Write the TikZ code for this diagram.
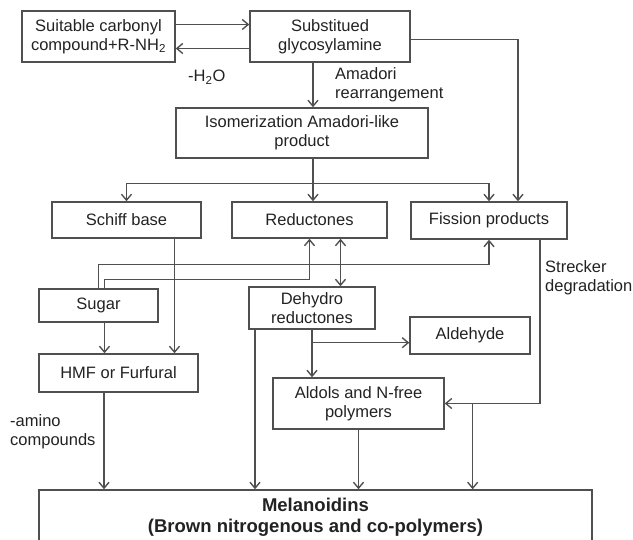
\documentclass[tikz,border=0pt]{standalone}
\usepackage{fontspec}
\setmainfont{Liberation Sans}
\usepackage{xcolor}
\usetikzlibrary{arrows.meta}
\definecolor{lngray}{HTML}{505050}
\definecolor{txgray}{HTML}{222222}

\begin{document}
\begin{tikzpicture}[x=1pt, y=-1pt,
            font=\fontsize{16.5}{19}\selectfont,
            >={Straight Barb[length=6pt,width=10pt]},
            box/.style={draw=lngray, line width=1.4pt, align=center, inner sep=0pt, text=txgray},
            arr/.style={draw=lngray, line width=1.4pt, ->},
            lbl/.style={align=left, anchor=west, inner sep=0pt, text=txgray}]
            \useasboundingbox (0,0) rectangle (633,540);

            \node[box, minimum width=153pt, minimum height=51pt] (carb) at (98.5,36.5) {Suitable carbonyl\\compound+R-NH\textsubscript{2}};
            \node[box, minimum width=160pt, minimum height=51pt] (glyco) at (330,36.5) {Substitued\\glycosylamine};
            \node[box, minimum width=252pt, minimum height=50pt] (iso) at (302,133) {Isomerization Amadori-like\\product};
            \node[box, minimum width=149pt, minimum height=36pt] (schiff) at (126.5,220) {Schiff base};
            \node[box, minimum width=155pt, minimum height=36pt] (red) at (309.5,220) {Reductones};
            \node[box, minimum width=156pt, minimum height=37pt] (fiss) at (489,220.5) {Fission products};
            \node[box, minimum width=119pt, minimum height=33pt] (sugar) at (98.5,305.5) {Sugar};
            \node[box, minimum width=159pt, minimum height=38pt] (hmf) at (118.5,373) {HMF or Furfural};
            \node[box, minimum width=126pt, minimum height=42pt] (dehy) at (312,308) {Dehydro\\reductones};
            \node[box, minimum width=120pt, minimum height=37pt] (alh) at (470,335.5) {Aldehyde};
            \node[box, minimum width=171pt, minimum height=51pt] (ald) at (358.5,403.5) {Aldols and N-free\\polymers};
            \node[box, minimum width=553pt, minimum height=54pt, font=\fontsize{18.5}{21}\selectfont\bfseries] (mel) at (315.5,517) {Melanoidins\\(Brown nitrogenous and co-polymers)};

            \node[lbl] (h2o) at (188,77) {-H\textsubscript{2}O};
            \node[lbl] (amad) at (335,85) {Amadori\\rearrangement};
            \node[lbl] (streck) at (545,278) {Strecker\\degradation};
            \node[lbl] (amino) at (10,432) {-amino\\compounds};

            \draw[arr] ([yshift=12pt]carb.east) -- ([yshift=12pt]glyco.west);
            \draw[arr] ([yshift=-12pt]glyco.west) -- ([yshift=-12pt]carb.east);
            \draw[arr] ([xshift=-17pt]glyco.south) -- ([xshift=-17pt]glyco.south |- iso.north);
            \draw[arr] ([yshift=-3pt]glyco.east) -| ([xshift=29pt]fiss.north);

            \coordinate (split) at ([xshift=11pt,yshift=-25pt]iso.south);
            \draw[arr] ([xshift=11pt]iso.south) -- ([xshift=11pt]iso.south |- red.north);
            \draw[arr] (split) -| (schiff.north);
            \draw[arr] (split) -| (fiss.north);

            \draw[arr] ([xshift=48pt]schiff.south) -- ([xshift=48pt]schiff.south |- hmf.north);
            \draw[arr] (sugar.north) |- ([yshift=-25pt]fiss.south) -- (fiss.south);
            \draw[arr] ([xshift=6pt]sugar.north) |- ([yshift=-41pt]red.south) -- (red.south);
            \draw[arr] ([xshift=6pt]sugar.south) -- ([xshift=6pt]sugar.south |- hmf.north);
            \draw[arr, <->] ([xshift=31pt]red.south) -- ([xshift=31pt]red.south |- dehy.north);

            \draw[arr] ([xshift=-57pt]dehy.south) -- ([xshift=-57pt]dehy.south |- mel.north);
            \draw[arr] (dehy.south) -- (dehy.south |- ald.north);
            \draw[arr] ([yshift=-13pt]dehy.south) -- ([yshift=-13pt]dehy.south -| alh.west);

            \draw[arr] ([xshift=51pt]fiss.south) |- (ald.east);
            \coordinate (join) at ([xshift=28pt]ald.east);
            \draw[arr] (join) -- (join |- mel.north);
            \draw[arr] (ald.south) -- (ald.south |- mel.north);
            \draw[arr] ([xshift=-14.5pt]hmf.south) -- ([xshift=-14.5pt]hmf.south |- mel.north);
        \end{tikzpicture}
\end{document}
